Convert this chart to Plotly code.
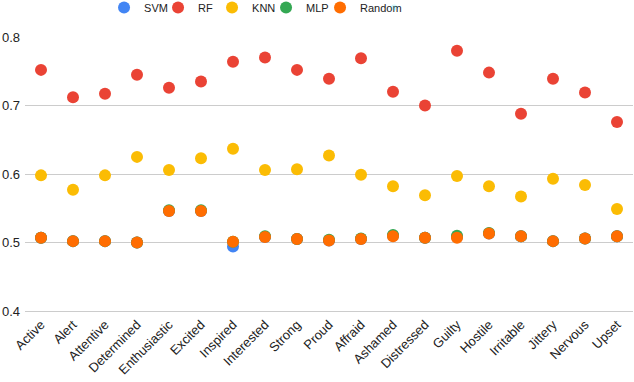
import plotly.graph_objects as go

emotions = ['Active', 'Alert', 'Attentive', 'Determined', 'Enthusiastic', 'Excited',
            'Inspired', 'Interested', 'Strong', 'Proud', 'Affraid', 'Ashamed',
            'Distressed', 'Guilty', 'Hostile', 'Irritable', 'Jittery', 'Nervous', 'Upset']

svm = [0.507, 0.502, 0.502, 0.500, 0.546, 0.546, 0.494, 0.508, 0.505, 0.503,
       0.505, 0.510, 0.507, 0.508, 0.513, 0.509, 0.502, 0.506, 0.509]
rf = [0.752, 0.712, 0.717, 0.745, 0.726, 0.735, 0.764, 0.770, 0.752, 0.739,
      0.769, 0.720, 0.700, 0.780, 0.748, 0.688, 0.739, 0.719, 0.676]
knn = [0.598, 0.577, 0.598, 0.625, 0.606, 0.623, 0.637, 0.606, 0.607, 0.627,
       0.599, 0.582, 0.569, 0.597, 0.582, 0.567, 0.593, 0.584, 0.549]
mlp = [0.507, 0.502, 0.502, 0.500, 0.547, 0.547, 0.501, 0.509, 0.505, 0.504,
       0.506, 0.511, 0.507, 0.510, 0.514, 0.509, 0.502, 0.506, 0.509]
rand = [0.507, 0.502, 0.502, 0.500, 0.546, 0.546, 0.501, 0.508, 0.505, 0.503,
        0.505, 0.509, 0.507, 0.507, 0.513, 0.509, 0.502, 0.506, 0.509]

series = [('SVM', svm, '#4285F4'), ('RF', rf, '#EA4335'), ('KNN', knn, '#FBBC04'),
          ('MLP', mlp, '#34A853'), ('Random', rand, '#FF6D01')]

fig = go.Figure()
for name, vals, color in series:
    fig.add_trace(go.Scatter(x=emotions, y=vals, name=name, mode='markers',
                             marker=dict(color=color, size=12)))

# empty legend slot so the last label ("Random") is not clipped by the narrow entries
fig.add_trace(go.Scatter(x=[None], y=[None], name='', mode='markers',
                         marker=dict(opacity=0), hoverinfo='skip'))

fig.update_layout(
    width=634, height=382,
    margin=dict(l=25, r=1, t=37, b=71, autoexpand=False),
    plot_bgcolor='white', paper_bgcolor='white',
    font=dict(family='Liberation Sans, Arial, sans-serif', size=13, color='#222222'),
    legend=dict(orientation='h', x=0.13, xanchor='left', y=1.161, yanchor='top',
                font=dict(size=11), entrywidth=9, entrywidthmode='pixels'),
    xaxis=dict(type='category', tickangle=-45, showgrid=False, showline=True,
               linecolor='#cccccc', linewidth=1, ticks='', range=[-0.5, 18.5],
               automargin=False),
    yaxis=dict(range=[0.4, 0.8], dtick=0.1, tickformat='.1f', gridcolor='#cccccc',
               zeroline=False, showline=False, ticks='', automargin=False,
               ticklabelstandoff=4),
)

# page body has a default 8px margin; drop it so the chart sits at the corner
fig.write_html("out.html", config={'displayModeBar': False},
               post_script="document.body.style.margin='0';")
